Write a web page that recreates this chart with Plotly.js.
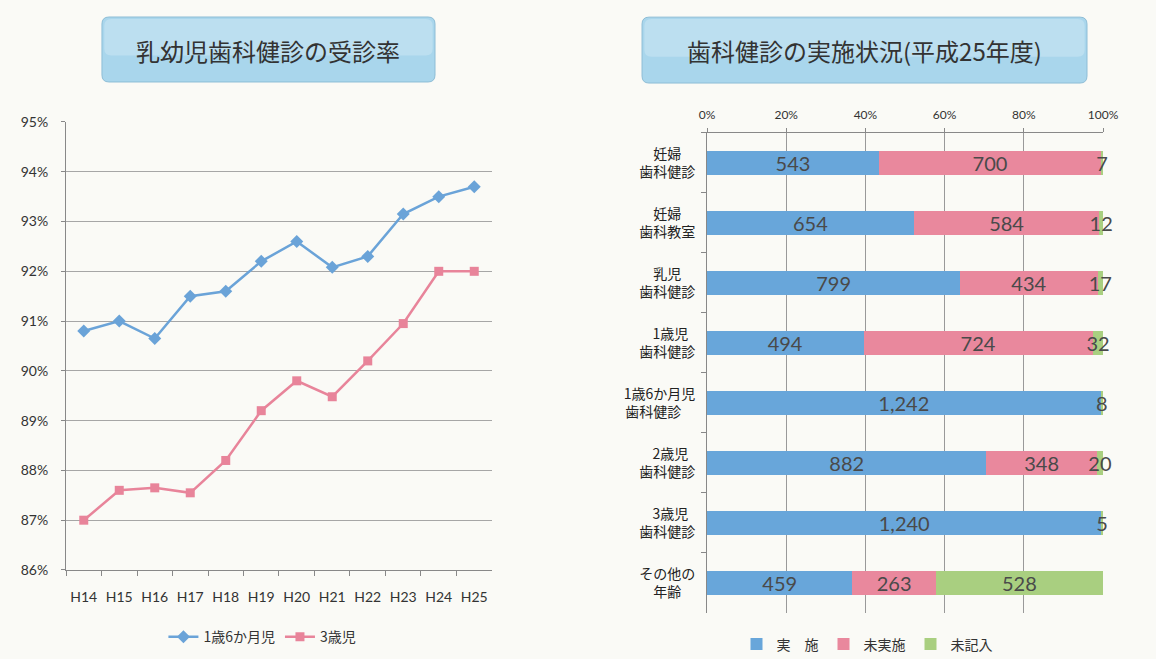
<!DOCTYPE html>
<html>
<head>
<meta charset="utf-8">
<script src="https://cdn.plot.ly/plotly-3.0.1.min.js"></script>
<style>
  html, body { margin: 0; padding: 0; background: #fafaf6; }
  #chart { width: 1156px; height: 659px; }
</style>
</head>
<body>
<div id="chart"></div>
<script>
// 乳幼児歯科健診の受診率
const years = ['H14', 'H15', 'H16', 'H17', 'H18', 'H19', 'H20', 'H21', 'H22', 'H23', 'H24', 'H25'];
const rate18m = [90.8, 91.0, 90.65, 91.5, 91.6, 92.2, 92.6, 92.08, 92.3, 93.15, 93.5, 93.7];
const rate3y = [87.0, 87.6, 87.65, 87.55, 88.2, 89.2, 89.8, 89.48, 90.2, 90.95, 92.0, 92.0];

// 歯科健診の実施状況(平成25年度)
const checkupNames = [
    '妊婦\u3000<br>歯科健診',
    '妊婦\u3000<br>歯科教室',
    '乳児\u3000<br>歯科健診',
    '1歳児\u2002<br>歯科健診',
    '1歳6か月児<br>歯科健診\u3000',
    '2歳児\u2002<br>歯科健診',
    '3歳児\u2002<br>歯科健診',
    'その他の<br>年齢\u3000'
];
const doneCounts = [543, 654, 799, 494, 1242, 882, 1240, 459];
const notDoneCounts = [700, 584, 434, 724, 0, 348, 0, 263];
const noAnswerCounts = [7, 12, 17, 32, 8, 20, 5, 528];

const jpFont = '"Noto Sans CJK JP", "Noto Sans", sans-serif';
const numFont = 'Lato, "Noto Sans", sans-serif';

function labels(arr) {
    return arr.map(v => v ? v.toLocaleString('en-US') : '');
}

// 角丸の四角（paper座標）
function roundBox(x0, x1, y0, y1) {
    let rx = 7 / 1156, ry = 7 / 659;
    return 'M' + (x0 + rx) + ',' + y1 +
        ' L' + (x1 - rx) + ',' + y1 + ' Q' + x1 + ',' + y1 + ' ' + x1 + ',' + (y1 - ry) +
        ' L' + x1 + ',' + (y0 + ry) + ' Q' + x1 + ',' + y0 + ' ' + (x1 - rx) + ',' + y0 +
        ' L' + (x0 + rx) + ',' + y0 + ' Q' + x0 + ',' + y0 + ' ' + x0 + ',' + (y0 + ry) +
        ' L' + x0 + ',' + (y1 - ry) + ' Q' + x0 + ',' + y1 + ' ' + (x0 + rx) + ',' + y1 + ' Z';
}

let lineTraces = [
    {
        type: 'scatter', mode: 'lines+markers', name: '1歳6か月児',
        x: years, y: rate18m, xaxis: 'x', yaxis: 'y', legend: 'legend',
        line: { color: '#6aa3d8', width: 2.5 },
        marker: { symbol: 'diamond', size: 10, color: '#6aa3d8' }
    },
    {
        type: 'scatter', mode: 'lines+markers', name: '3歳児',
        x: years, y: rate3y, xaxis: 'x', yaxis: 'y', legend: 'legend',
        line: { color: '#e8849a', width: 2.5 },
        marker: { symbol: 'square', size: 9, color: '#e8849a' }
    }
];

function barTrace(name, values, color) {
    return {
        type: 'bar', orientation: 'h', name: name,
        x: values, y: checkupNames, xaxis: 'x2', yaxis: 'y2', legend: 'legend2',
        text: labels(values), texttemplate: '%{text}',
        textposition: 'inside', insidetextanchor: 'middle', constraintext: 'none',
        cliponaxis: false,
        textfont: { family: numFont, size: 20, color: '#4a4a4a' },
        marker: { color: color },
        hoverinfo: 'name+x'
    };
}

let barTraces = [
    barTrace('実\u3000施', doneCounts, '#68a6da'),
    barTrace('未実施', notDoneCounts, '#e9889d'),
    barTrace('未記入', noAnswerCounts, '#a9cf80')
];

let box1 = [0.0882, 0.3763, 0.8756, 0.9742];
let box2 = [0.5554, 0.9403, 0.874, 0.974];

let layout = {
    width: 1156, height: 659,
    margin: { l: 0, r: 0, t: 0, b: 0, autoexpand: false },
    paper_bgcolor: '#fafaf6',
    plot_bgcolor: 'rgba(0,0,0,0)',
    font: { family: jpFont, color: '#333' },
    barmode: 'stack',
    barnorm: 'percent',
    bargap: 0.6,
    xaxis: {
        domain: [0.0571, 0.4256],
        type: 'category', range: [-0.5, 11.5],
        showline: true, linecolor: '#888', linewidth: 1,
        ticks: 'outside', tickson: 'boundaries', ticklen: 5, tickcolor: '#888',
        showgrid: false, zeroline: false, tickangle: 0,
        tickfont: { family: numFont, size: 14, color: '#333' },
        ticklabelstandoff: 14
    },
    yaxis: {
        domain: [0.1351, 0.8149],
        range: [86, 95], dtick: 1, ticksuffix: '%',
        showline: true, linecolor: '#888', linewidth: 1,
        ticks: 'outside', ticklen: 4, tickcolor: '#888',
        gridcolor: '#a6a6a6', gridwidth: 1, zeroline: false,
        tickfont: { family: numFont, size: 14, color: '#333' },
        ticklabelstandoff: 10
    },
    xaxis2: {
        domain: [0.6116, 0.9542], anchor: 'y2', side: 'top',
        range: [0, 100], dtick: 20, ticksuffix: '%',
        showline: true, linecolor: '#888', linewidth: 1,
        ticks: 'outside', ticklen: 4, tickcolor: '#888',
        gridcolor: '#999', gridwidth: 1, zeroline: false,
        tickfont: { family: numFont, size: 12, color: '#333' },
        ticklabelstandoff: 4
    },
    yaxis2: {
        domain: [0.0698, 0.7982], anchor: 'x2',
        type: 'category', range: [7.5, -0.5],
        showline: true, linecolor: '#888', linewidth: 1,
        ticks: 'outside', tickson: 'boundaries', ticklen: 5, tickcolor: '#888',
        showgrid: false,
        tickfont: { family: jpFont, size: 14, color: '#222' },
        ticklabelstandoff: 8
    },
    legend: {
        orientation: 'h', x: 0.227, xanchor: 'center', y: 0.033, yanchor: 'middle',
        bgcolor: 'rgba(0,0,0,0)',
        font: { family: jpFont, size: 14, color: '#333' },
        itemwidth: 30
    },
    legend2: {
        orientation: 'h', x: 0.75, xanchor: 'center', y: 0.022, yanchor: 'middle',
        traceorder: 'normal',
        bgcolor: 'rgba(0,0,0,0)',
        font: { family: jpFont, size: 14, color: '#333' },
        itemwidth: 30
    },
    shapes: [
        {
            type: 'path', xref: 'paper', yref: 'paper', path: roundBox(box1[0], box1[1], box1[2], box1[3]),
            fillcolor: '#a9d6ec', line: { color: '#8dbdd6', width: 1 }
        },
        {
            type: 'path', xref: 'paper', yref: 'paper', path: roundBox(box1[0] + 0.002, box1[1] - 0.002, box1[2] + 0.04, box1[3] - 0.003),
            fillcolor: 'rgba(255,255,255,0.22)', line: { width: 0 }
        },
        {
            type: 'path', xref: 'paper', yref: 'paper', path: roundBox(box2[0], box2[1], box2[2], box2[3]),
            fillcolor: '#a9d6ec', line: { color: '#8dbdd6', width: 1 }
        },
        {
            type: 'path', xref: 'paper', yref: 'paper', path: roundBox(box2[0] + 0.002, box2[1] - 0.002, box2[2] + 0.04, box2[3] - 0.003),
            fillcolor: 'rgba(255,255,255,0.22)', line: { width: 0 }
        }
    ],
    annotations: [
        {
            text: '乳幼児歯科健診の受診率', xref: 'paper', yref: 'paper',
            x: 0.232, y: 0.924, xanchor: 'center', yanchor: 'middle', showarrow: false,
            font: { family: jpFont, size: 24, color: '#333' }
        },
        {
            text: '歯科健診の実施状況(平成25年度)', xref: 'paper', yref: 'paper',
            x: 0.748, y: 0.924, xanchor: 'center', yanchor: 'middle', showarrow: false,
            font: { family: jpFont, size: 24, color: '#333' }
        }
    ]
};

Plotly.newPlot('chart', lineTraces.concat(barTraces), layout, { displayModeBar: false });
</script>
</body>
</html>
